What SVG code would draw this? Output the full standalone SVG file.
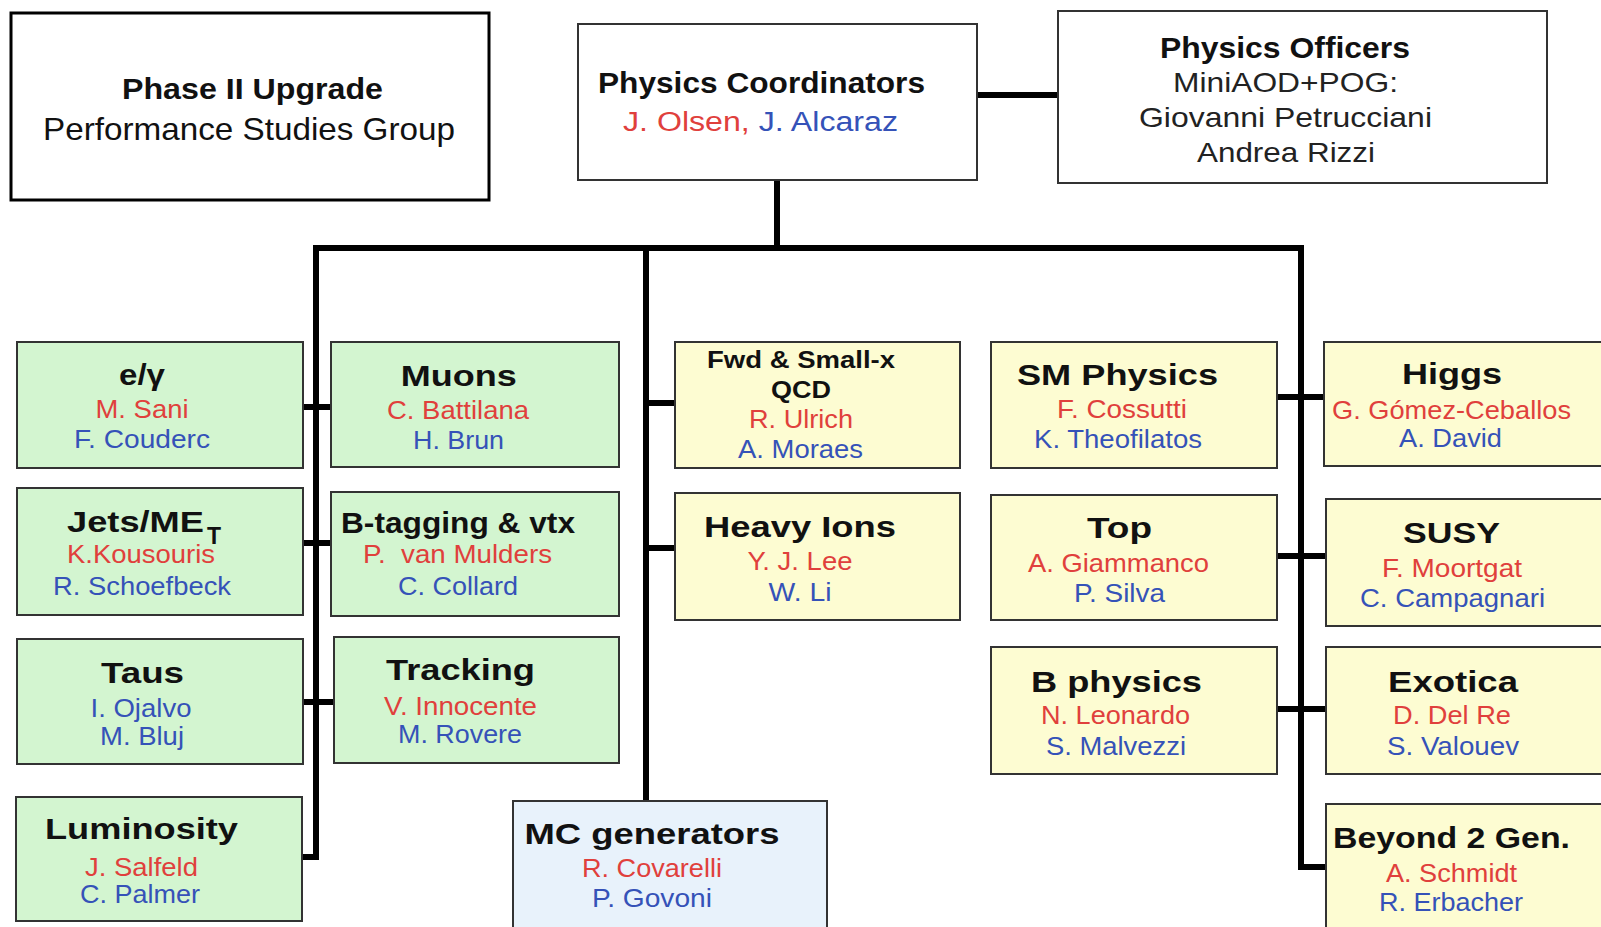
<svg xmlns="http://www.w3.org/2000/svg" width="1601" height="927" viewBox="0 0 1601 927">
<style>
text{font-family:"Liberation Sans",Arial,sans-serif;text-anchor:middle}
.t{font-weight:bold;font-size:30px;fill:#111}
.ts{font-weight:bold;font-size:23px;fill:#111}
.n{font-size:26px}
.r{fill:#e0403c}
.b{fill:#3552b8}
.k{fill:#222;font-size:28px}
.g{fill:#d3f5d0;stroke:#333;stroke-width:2}
.y{fill:#fdfcd2;stroke:#333;stroke-width:2}
.bl{fill:#e8f2fb;stroke:#333;stroke-width:2}
.w{fill:#fff;stroke:#333;stroke-width:2}
.c{stroke:#000;fill:none;stroke-width:6}
</style>
<rect width="1601" height="927" fill="#fff"/>
<g id="connectors">
<line class="c" x1="977" y1="95" x2="1058" y2="95"/>
<line class="c" x1="777" y1="180" x2="777" y2="248" stroke-width="5"/>
<line class="c" x1="313" y1="248" x2="1304" y2="248"/>
<polyline class="c" points="316,245 316,857 302,857" stroke-width="5"/>
<line class="c" x1="302" y1="407" x2="331" y2="407" stroke-width="5"/>
<line class="c" x1="302" y1="543" x2="331" y2="543" stroke-width="5"/>
<line class="c" x1="302" y1="702" x2="334" y2="702" stroke-width="8"/>
<line class="c" x1="646" y1="245" x2="646" y2="801" stroke-width="5"/>
<line class="c" x1="646" y1="403" x2="675" y2="403"/>
<line class="c" x1="646" y1="548" x2="675" y2="548"/>
<polyline class="c" points="1301,245 1301,867 1326,867" stroke-width="7"/>
<line class="c" x1="1277" y1="397" x2="1324" y2="397"/>
<line class="c" x1="1277" y1="556" x2="1326" y2="556"/>
<line class="c" x1="1277" y1="709" x2="1326" y2="709"/>
</g>
<g id="phase2">
<rect x="11" y="13" width="478" height="187" fill="#fff" stroke="#000" stroke-width="3"/>
<text class="t" x="252.5" y="99" textLength="261" lengthAdjust="spacingAndGlyphs">Phase II Upgrade</text>
<text x="249" y="140" font-size="32" fill="#111" textLength="412" lengthAdjust="spacingAndGlyphs">Performance Studies Group</text>
</g>
<g id="coordinators">
<rect class="w" x="578" y="24" width="399" height="156"/>
<text class="t" x="761.5" y="93" style="font-size:29px" textLength="327" lengthAdjust="spacingAndGlyphs">Physics Coordinators</text>
<text class="n" x="760.5" y="131" style="font-size:27px" textLength="275" lengthAdjust="spacingAndGlyphs"><tspan class="r">J. Olsen, </tspan><tspan class="b">J. Alcaraz</tspan></text>
</g>
<g id="officers">
<rect class="w" x="1058" y="11" width="489" height="172"/>
<text class="t" x="1285" y="58" textLength="250" lengthAdjust="spacingAndGlyphs">Physics Officers</text>
<text class="k" x="1285.5" y="92" textLength="225" lengthAdjust="spacingAndGlyphs">MiniAOD+POG:</text>
<text class="k" x="1285.5" y="127" textLength="293" lengthAdjust="spacingAndGlyphs">Giovanni Petrucciani</text>
<text class="k" x="1286" y="162" textLength="178" lengthAdjust="spacingAndGlyphs">Andrea Rizzi</text>
</g>
<g id="egamma">
<rect class="g" x="17" y="342" width="286" height="126"/>
<text class="t" x="142" y="385" textLength="46" lengthAdjust="spacingAndGlyphs">e/γ</text>
<text class="n r" x="142" y="418" textLength="93" lengthAdjust="spacingAndGlyphs">M. Sani</text>
<text class="n b" x="142" y="448" textLength="136" lengthAdjust="spacingAndGlyphs">F. Couderc</text>
</g>
<g id="jets">
<rect class="g" x="17" y="488" width="286" height="127"/>
<text class="t" x="67" y="532" style="text-anchor:start" textLength="137" lengthAdjust="spacingAndGlyphs">Jets/ME</text>
<text class="ts" x="214" y="544">T</text>
<text class="n r" x="141" y="563" textLength="148" lengthAdjust="spacingAndGlyphs">K.Kousouris</text>
<text class="n b" x="142" y="595" textLength="178" lengthAdjust="spacingAndGlyphs">R. Schoefbeck</text>
</g>
<g id="taus">
<rect class="g" x="17" y="639" width="286" height="125"/>
<text class="t" x="142.5" y="683" textLength="83" lengthAdjust="spacingAndGlyphs">Taus</text>
<text class="n b" x="141" y="717" textLength="101" lengthAdjust="spacingAndGlyphs">I. Ojalvo</text>
<text class="n b" x="142" y="745" textLength="84" lengthAdjust="spacingAndGlyphs">M. Bluj</text>
</g>
<g id="luminosity">
<rect class="g" x="16" y="797" width="286" height="124"/>
<text class="t" x="141.5" y="839" textLength="193" lengthAdjust="spacingAndGlyphs">Luminosity</text>
<text class="n r" x="141.5" y="876" textLength="113" lengthAdjust="spacingAndGlyphs">J. Salfeld</text>
<text class="n b" x="140" y="903" textLength="120" lengthAdjust="spacingAndGlyphs">C. Palmer</text>
</g>
<g id="muons">
<rect class="g" x="331" y="342" width="288" height="125"/>
<text class="t" x="458.7" y="385.5" textLength="116" lengthAdjust="spacingAndGlyphs">Muons</text>
<text class="n r" x="458" y="419" textLength="142" lengthAdjust="spacingAndGlyphs">C. Battilana</text>
<text class="n b" x="458.5" y="449" textLength="91" lengthAdjust="spacingAndGlyphs">H. Brun</text>
</g>
<g id="btagging">
<rect class="g" x="331" y="492" width="288" height="124"/>
<text class="t" x="458" y="533" textLength="234" lengthAdjust="spacingAndGlyphs">B-tagging &amp; vtx</text>
<text class="n r" x="457.5" y="563" style="white-space:pre" textLength="189" lengthAdjust="spacingAndGlyphs">P.  van Mulders</text>
<text class="n b" x="458" y="595" textLength="120" lengthAdjust="spacingAndGlyphs">C. Collard</text>
</g>
<g id="tracking">
<rect class="g" x="334" y="637" width="285" height="126"/>
<text class="t" x="460.5" y="680" textLength="149" lengthAdjust="spacingAndGlyphs">Tracking</text>
<text class="n r" x="460.5" y="715" textLength="153" lengthAdjust="spacingAndGlyphs">V. Innocente</text>
<text class="n b" x="460" y="743" textLength="124" lengthAdjust="spacingAndGlyphs">M. Rovere</text>
</g>
<g id="fwd">
<rect class="y" x="675" y="342" width="285" height="126"/>
<text class="ts" x="801" y="368" textLength="188" lengthAdjust="spacingAndGlyphs">Fwd &amp; Small-x</text>
<text class="ts" x="801" y="398" textLength="60" lengthAdjust="spacingAndGlyphs">QCD</text>
<text class="n r" x="801" y="428" textLength="104" lengthAdjust="spacingAndGlyphs">R. Ulrich</text>
<text class="n b" x="800.5" y="458" textLength="125" lengthAdjust="spacingAndGlyphs">A. Moraes</text>
</g>
<g id="heavyions">
<rect class="y" x="675" y="493" width="285" height="127"/>
<text class="t" x="800" y="537" textLength="192" lengthAdjust="spacingAndGlyphs">Heavy Ions</text>
<text class="n r" x="800" y="570" textLength="105" lengthAdjust="spacingAndGlyphs">Y. J. Lee</text>
<text class="n b" x="800" y="601" textLength="63" lengthAdjust="spacingAndGlyphs">W. Li</text>
</g>
<g id="mcgen">
<rect class="bl" x="513" y="801" width="314" height="140"/>
<text class="t" x="652" y="844" textLength="255" lengthAdjust="spacingAndGlyphs">MC generators</text>
<text class="n r" x="652" y="877" textLength="140" lengthAdjust="spacingAndGlyphs">R. Covarelli</text>
<text class="n b" x="652" y="907" textLength="120" lengthAdjust="spacingAndGlyphs">P. Govoni</text>
</g>
<g id="smphysics">
<rect class="y" x="991" y="342" width="286" height="126"/>
<text class="t" x="1117.5" y="385" textLength="201" lengthAdjust="spacingAndGlyphs">SM Physics</text>
<text class="n r" x="1122" y="418" textLength="130" lengthAdjust="spacingAndGlyphs">F. Cossutti</text>
<text class="n b" x="1118" y="448" textLength="168" lengthAdjust="spacingAndGlyphs">K. Theofilatos</text>
</g>
<g id="top">
<rect class="y" x="991" y="495" width="286" height="125"/>
<text class="t" x="1119.5" y="538" textLength="65" lengthAdjust="spacingAndGlyphs">Top</text>
<text class="n r" x="1118.5" y="572" textLength="181" lengthAdjust="spacingAndGlyphs">A. Giammanco</text>
<text class="n b" x="1119.5" y="602" textLength="91" lengthAdjust="spacingAndGlyphs">P. Silva</text>
</g>
<g id="bphysics">
<rect class="y" x="991" y="647" width="286" height="127"/>
<text class="t" x="1116.5" y="692" textLength="171" lengthAdjust="spacingAndGlyphs">B physics</text>
<text class="n r" x="1115.5" y="724" textLength="149" lengthAdjust="spacingAndGlyphs">N. Leonardo</text>
<text class="n b" x="1116" y="755" textLength="140" lengthAdjust="spacingAndGlyphs">S. Malvezzi</text>
</g>
<g id="higgs">
<rect class="y" x="1324" y="342" width="290" height="124"/>
<text class="t" x="1452" y="384" textLength="100" lengthAdjust="spacingAndGlyphs">Higgs</text>
<text class="n r" x="1451.5" y="419" textLength="239" lengthAdjust="spacingAndGlyphs">G. Gómez-Ceballos</text>
<text class="n b" x="1450.5" y="447" textLength="103" lengthAdjust="spacingAndGlyphs">A. David</text>
</g>
<g id="susy">
<rect class="y" x="1326" y="499" width="290" height="127"/>
<text class="t" x="1451.5" y="543" textLength="97" lengthAdjust="spacingAndGlyphs">SUSY</text>
<text class="n r" x="1452" y="577" textLength="140" lengthAdjust="spacingAndGlyphs">F. Moortgat</text>
<text class="n b" x="1452.5" y="607" textLength="185" lengthAdjust="spacingAndGlyphs">C. Campagnari</text>
</g>
<g id="exotica">
<rect class="y" x="1326" y="647" width="290" height="127"/>
<text class="t" x="1453" y="692" textLength="130" lengthAdjust="spacingAndGlyphs">Exotica</text>
<text class="n r" x="1452" y="724" textLength="118" lengthAdjust="spacingAndGlyphs">D. Del Re</text>
<text class="n b" x="1453" y="755" textLength="132" lengthAdjust="spacingAndGlyphs">S. Valouev</text>
</g>
<g id="beyond2gen">
<rect class="y" x="1326" y="804" width="290" height="140"/>
<text class="t" x="1451.5" y="848" textLength="237" lengthAdjust="spacingAndGlyphs">Beyond 2 Gen.</text>
<text class="n r" x="1451.5" y="882" textLength="131" lengthAdjust="spacingAndGlyphs">A. Schmidt</text>
<text class="n b" x="1451" y="911" textLength="144" lengthAdjust="spacingAndGlyphs">R. Erbacher</text>
</g>
</svg>
